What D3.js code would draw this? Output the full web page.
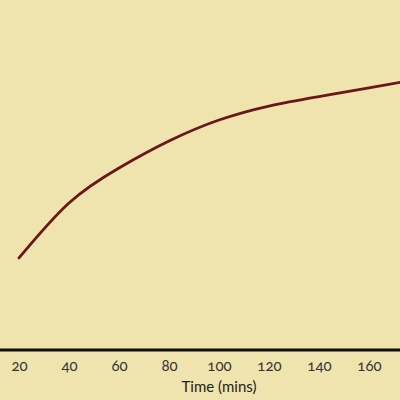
<!DOCTYPE html>
<html>
<head>
<meta charset="utf-8">
<script src="https://cdn.jsdelivr.net/npm/d3@7"></script>
<style>
  html, body { margin: 0; padding: 0; background: #efe3ae; }
  svg { display: block; }
  text { font-family: Lato, "Open Sans", sans-serif; font-variant-numeric: oldstyle-nums; }
</style>
</head>
<body>
<div id="chart"></div>
<script>
const times = [20, 40, 60, 80, 100, 120, 140, 160, 175];
const values = [26.3, 42.0, 52.0, 59.7, 65.7, 69.7, 72.4, 74.9, 76.8];
const tickValues = [20, 40, 60, 80, 100, 120, 140, 160];
const xLabel = "Time (mins)";

const W = 400, H = 400;
const svg = d3.select("#chart").append("svg").attr("width", W).attr("height", H);
svg.append("rect").attr("width", W).attr("height", H).attr("fill", "#efe3ae");

const x = d3.scaleLinear().domain([20, 160]).range([19, 369]);
const y = d3.scaleLinear().domain([0, 100]).range([350, 0]);

svg.append("defs").append("clipPath").attr("id", "clip")
  .append("rect").attr("x", 0).attr("y", 0).attr("width", W).attr("height", 350);

const line = d3.line()
  .x((d, i) => x(times[i]))
  .y(d => y(d))
  .curve(d3.curveNatural);

svg.append("path")
  .datum(values)
  .attr("clip-path", "url(#clip)")
  .attr("d", line)
  .attr("fill", "none")
  .attr("stroke", "#6a1719")
  .attr("stroke-width", 2.8)
  .attr("stroke-linecap", "round");

const axis = d3.axisBottom(x).tickValues(tickValues).tickSize(0).tickPadding(10);
const g = svg.append("g").attr("transform", "translate(0,350)").call(axis);
g.select(".domain").remove();
g.append("line").attr("x1", 0).attr("x2", W).attr("y1", 0).attr("y2", 0)
  .attr("stroke", "#111").attr("stroke-width", 3);
g.selectAll(".tick text").attr("font-size", 15).attr("fill", "#333")
  .style("font-family", "Lato, 'Open Sans', sans-serif");

svg.append("text")
  .attr("x", x(100))
  .attr("y", 392)
  .attr("text-anchor", "middle")
  .attr("font-size", 15)
  .attr("fill", "#222")
  .text(xLabel);
</script>
</body>
</html>
